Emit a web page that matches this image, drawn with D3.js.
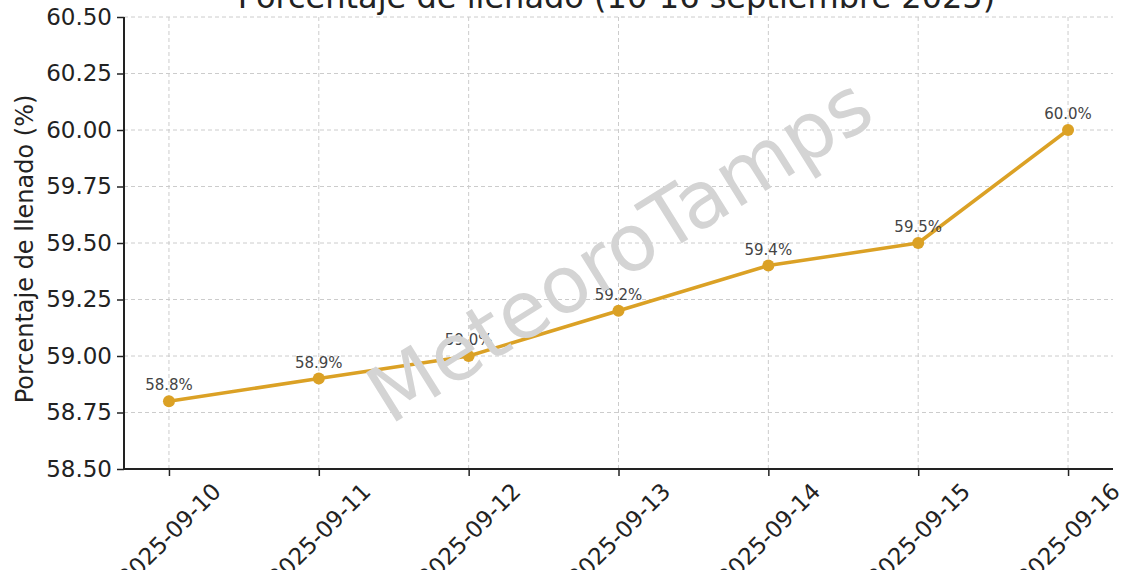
<!DOCTYPE html>
<meta charset="utf-8">
<script src="https://d3js.org/d3.v7.min.js"></script>
<style>
  body { margin: 0; background: #fff; }
  text { font-family: "DejaVu Sans", sans-serif; }
</style>
<body>
<svg id="chart" width="1140" height="570"></svg>
<script>
  // data
  var fechas = ["2025-09-10", "2025-09-11", "2025-09-12", "2025-09-13", "2025-09-14", "2025-09-15", "2025-09-16"];
  var llenado = [58.8, 58.9, 59.0, 59.2, 59.4, 59.5, 60.0];
  var yTicks = [58.50, 58.75, 59.00, 59.25, 59.50, 59.75, 60.00, 60.25, 60.50];

  var svg = d3.select("#chart");
  var margin = {left: 124, right: 27, top: 17, bottom: 101};
  var width = 1140 - margin.left - margin.right,
      height = 570 - margin.top - margin.bottom;

  var g = svg.append("g").attr("transform", "translate(" + margin.left + "," + margin.top + ")");

  // matplotlib-like 5% padding on the x range
  var x = d3.scaleLinear().domain([-0.3, fechas.length - 1 + 0.3]).range([0, width]);
  var y = d3.scaleLinear().domain([58.5, 60.5]).range([height, 0]);

  // grid
  g.append("g").selectAll("line").data(yTicks).enter().append("line")
    .attr("x1", 0).attr("x2", width)
    .attr("y1", function(d){ return y(d) }).attr("y2", function(d){ return y(d) })
    .attr("stroke", "#cccccc").attr("stroke-width", 1).attr("stroke-dasharray", "4,3");
  g.append("g").selectAll("line").data(fechas).enter().append("line")
    .attr("x1", function(d, i){ return x(i) }).attr("x2", function(d, i){ return x(i) })
    .attr("y1", 0).attr("y2", height)
    .attr("stroke", "#cccccc").attr("stroke-width", 1).attr("stroke-dasharray", "4,3");

  // watermark
  svg.append("text")
    .attr("transform", "translate(634,273) rotate(-32)")
    .attr("text-anchor", "middle")
    .style("font-size", "79px")
    .style("fill", "#d4d4d4")
    .text("MeteoroTamps");

  // axes
  var yAxis = d3.axisLeft(y).tickValues(yTicks).tickFormat(d3.format(".2f")).tickSize(7).tickPadding(5);
  var ya = g.append("g").call(yAxis);
  ya.select(".domain").attr("stroke", "#222").attr("stroke-width", 2).attr("d", "M0," + height + "V0");
  ya.selectAll(".tick line").attr("stroke", "#222").attr("stroke-width", 1.5);
  ya.selectAll(".tick text").style("font-size", "23px").style("font-family", "DejaVu Sans").attr("fill", "#222");

  var xAxis = d3.axisBottom(x).tickValues(d3.range(fechas.length)).tickFormat(function(i){ return fechas[i] }).tickSize(7);
  var xa = g.append("g").attr("transform", "translate(0," + height + ")").call(xAxis);
  xa.select(".domain").attr("stroke", "#222").attr("stroke-width", 2).attr("d", "M0,0H" + width);
  xa.selectAll(".tick line").attr("stroke", "#222").attr("stroke-width", 1.5);
  // rotate 45 about the label centre, like ha=center
  var fs = 23;
  xa.selectAll(".tick text")
    .style("font-size", fs + "px").style("font-family", "DejaVu Sans").attr("fill", "#222")
    .attr("text-anchor", "middle").attr("dy", null).attr("y", 0)
    .attr("transform", function(){
      var w = this.getComputedTextLength();
      var off = (w + fs) / (2 * Math.SQRT2) + 10;
      return "translate(0," + off + ") rotate(-45)";
    })
    .attr("dominant-baseline", "central");

  // line + markers
  var line = d3.line().x(function(d, i){ return x(i) }).y(function(d){ return y(d) });
  g.append("path").datum(llenado)
    .attr("d", line).attr("fill", "none")
    .attr("stroke", "#dba125").attr("stroke-width", 3.5).attr("stroke-linejoin", "round");
  g.append("g").selectAll("circle").data(llenado).enter().append("circle")
    .attr("cx", function(d, i){ return x(i) }).attr("cy", function(d){ return y(d) })
    .attr("r", 6).attr("fill", "#dba125");

  // value labels
  g.append("g").selectAll("text").data(llenado).enter().append("text")
    .attr("x", function(d, i){ return x(i) }).attr("y", function(d){ return y(d) - 11 })
    .attr("text-anchor", "middle")
    .style("font-size", "15px").style("fill", "#444")
    .text(function(d){ return d.toFixed(1) + "%" });

  // y label
  svg.append("text")
    .attr("transform", "translate(33," + (margin.top + height / 2 + 6) + ") rotate(-90)")
    .attr("text-anchor", "middle")
    .style("font-size", "24px").style("fill", "#222")
    .text("Porcentaje de llenado (%)");

  // title, cut at the top like the picture
  svg.append("text")
    .attr("x", margin.left + width / 2 - 2).attr("y", 8)
    .attr("text-anchor", "middle")
    .style("font-size", "32px").style("fill", "#222")
    .text("Porcentaje de llenado (10-16 septiembre 2025)");
</script>
</body>
